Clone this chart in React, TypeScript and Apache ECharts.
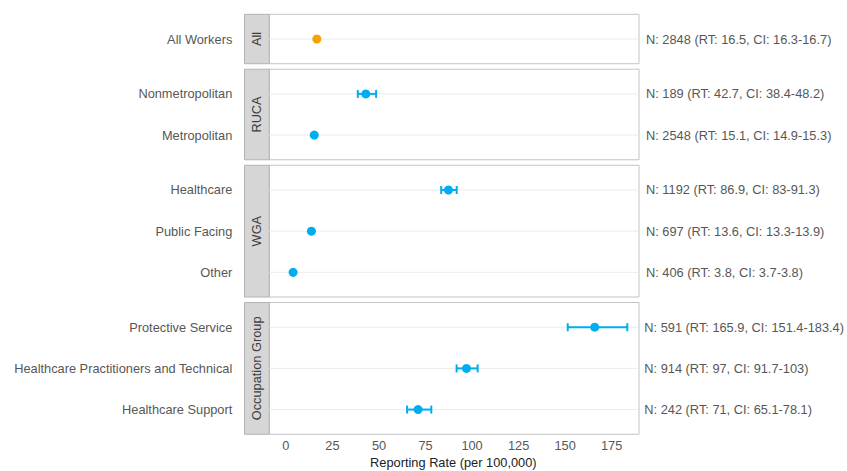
import React, { useEffect, useRef } from "react";
import * as echarts from "echarts";

const panels = ["All", "RUCA", "WGA", "Occupation Group"];
const categories = [
  ["All Workers"],
  ["Nonmetropolitan", "Metropolitan"],
  ["Healthcare", "Public Facing", "Other"],
  ["Protective Service", "Healthcare Practitioners and Technical", "Healthcare Support"],
];
const counts = [[2848], [189, 2548], [1192, 697, 406], [591, 914, 242]];
const rates = [[16.5], [42.7, 15.1], [86.9, 13.6, 3.8], [165.9, 97, 71]];
const ciLow = [[16.3], [38.4, 14.9], [83, 13.3, 3.7], [151.4, 91.7, 65.1]];
const ciHigh = [[16.7], [48.2, 15.3], [91.3, 13.9, 3.8], [183.4, 103, 78.1]];
const xTicks = [0, 25, 50, 75, 100, 125, 150, 175];
const panelColors = ["#F5A10A", "#00AEEF", "#00AEEF", "#00AEEF"];

const FONT = "'Liberation Sans', Arial, Helvetica, sans-serif";
const FS = 12.8;
const LABEL = "#575757";

export default function App() {
  const ref = useRef<HTMLDivElement>(null);
  useEffect(() => {
    if (!ref.current) return;
    const chart = echarts.init(ref.current, undefined, { renderer: "svg" });

    const unit = 41.17;
    const gap = 5.5;
    const top0 = 14.3;
    const gridLeft = 269.3;
    const gridRight = 208;
    const gridWidth = 847 - gridLeft - gridRight;
    const stripLeft = 244.5;
    const stripW = gridLeft - stripLeft;
    const xMin = -8.93;
    const xMax = 188.8;

    const panelTops: number[] = [];
    const panelHs: number[] = [];
    let t = top0;
    categories.forEach((c) => {
      const h = (c.length + 0.2) * unit;
      panelTops.push(t);
      panelHs.push(h);
      t += h + gap;
    });

    const grids: any[] = [];
    const xAxes: any[] = [];
    const yAxes: any[] = [];
    const series: any[] = [];
    const graphics: any[] = [];

    categories.forEach((cats, p) => {
      const last = p === categories.length - 1;
      grids.push({
        left: gridLeft,
        width: gridWidth,
        top: panelTops[p] + 0.1 * unit,
        height: cats.length * unit,
        containLabel: false,
      });
      xAxes.push({
        type: "value",
        gridIndex: p,
        min: xMin,
        max: xMax,
        axisLine: { show: false },
        axisTick: { show: false },
        splitLine: { show: false },
        axisLabel: {
          show: last,
          customValues: xTicks,
          color: LABEL,
          fontSize: FS,
          fontFamily: FONT,
          margin: 9,
        },
        name: last ? "Reporting Rate (per 100,000)" : "",
        nameLocation: "middle",
        nameGap: 26,
        nameTextStyle: { color: "#222222", fontSize: FS, fontFamily: FONT },
      });
      const annots = cats.map(
        (_, i) =>
          `N: ${counts[p][i]} (RT: ${rates[p][i]}, CI: ${ciLow[p][i]}-${ciHigh[p][i]})`
      );
      yAxes.push({
        type: "category",
        gridIndex: p,
        data: cats,
        inverse: true,
        axisLine: { show: false },
        axisTick: { show: false },
        splitLine: { show: false },
        axisLabel: { color: LABEL, fontSize: FS, fontFamily: FONT, margin: 37 },
      });
      yAxes.push({
        type: "category",
        gridIndex: p,
        data: cats,
        inverse: true,
        position: "right",
        axisLine: { show: false },
        axisTick: { show: false },
        splitLine: { show: false },
        axisLabel: {
          color: LABEL,
          fontSize: FS,
          fontFamily: FONT,
          margin: 7,
          formatter: (_v: string, i: number) => annots[i],
        },
      });
      const color = panelColors[p];
      series.push({
        type: "custom",
        xAxisIndex: p,
        yAxisIndex: p * 2,
        data: cats.map((_, i) => [ciLow[p][i], ciHigh[p][i], i]),
        encode: { x: [0, 1], y: 2 },
        renderItem: (params: any, api: any) => {
          const idx = api.value(2);
          const lo = api.coord([api.value(0), idx]);
          const hi = api.coord([api.value(1), idx]);
          const cs = params.coordSys;
          const cap = 4;
          const ls = { stroke: color, lineWidth: 2 };
          return {
            type: "group",
            children: [
              {
                type: "line",
                shape: { x1: cs.x, y1: lo[1], x2: cs.x + cs.width, y2: lo[1] },
                style: { stroke: "#ebebeb", lineWidth: 1 },
              },
              { type: "line", shape: { x1: lo[0], y1: lo[1], x2: hi[0], y2: hi[1] }, style: ls },
              { type: "line", shape: { x1: lo[0], y1: lo[1] - cap, x2: lo[0], y2: lo[1] + cap }, style: ls },
              { type: "line", shape: { x1: hi[0], y1: hi[1] - cap, x2: hi[0], y2: hi[1] + cap }, style: ls },
            ],
          };
        },
      });
      series.push({
        type: "scatter",
        xAxisIndex: p,
        yAxisIndex: p * 2,
        data: cats.map((_, i) => [rates[p][i], i]),
        symbolSize: 9,
        itemStyle: { color, opacity: 1 },
        z: 5,
      });

      graphics.push({
        type: "rect",
        shape: { x: gridLeft, y: panelTops[p], width: gridWidth, height: panelHs[p] },
        style: { fill: "none", stroke: "#c4c4c4", lineWidth: 1 },
        z: 1,
      });
      graphics.push({
        type: "rect",
        shape: { x: stripLeft, y: panelTops[p], width: stripW, height: panelHs[p] },
        style: { fill: "#d6d6d6", stroke: "#b3b3b3", lineWidth: 1 },
        z: 1,
      });
      graphics.push({
        type: "text",
        x: stripLeft + stripW / 2,
        y: panelTops[p] + panelHs[p] / 2,
        rotation: Math.PI / 2,
        style: {
          text: panels[p],
          fill: "#3d3d3d",
          font: `${FS}px ${FONT}`,
          align: "center",
          verticalAlign: "middle",
        },
        z: 2,
      });
    });

    chart.setOption({
      animation: false,
      backgroundColor: "#ffffff",
      grid: grids,
      xAxis: xAxes,
      yAxis: yAxes,
      series,
      graphic: graphics,
    });
    return () => chart.dispose();
  }, []);
  return <div ref={ref} style={{ width: 847, height: 471, position: "absolute", left: 0, top: 0 }} />;
}
